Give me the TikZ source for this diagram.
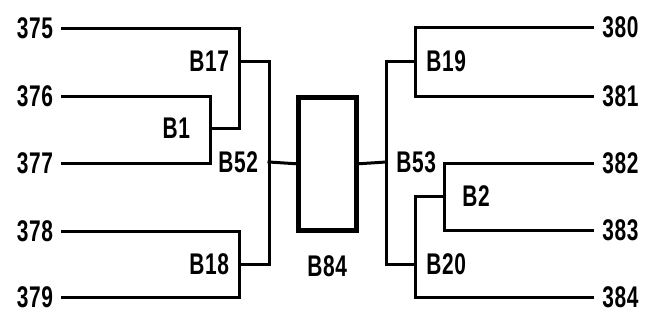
\documentclass[tikz,border=0pt]{standalone}
\usepackage{fontspec}
\newfontfamily\treefont[FakeStretch=0.7,LetterSpace=2]{Liberation Sans}
\newcommand{\tlabel}[1]{\textbf{#1}}
\usetikzlibrary{positioning}

\begin{document}
\begin{tikzpicture}[
  x=0.5bp, y=-0.5bp,
  node distance=5bp,
  lbl/.style={font=\treefont\fontsize{15}{16}\selectfont,inner sep=0pt},
  leafl/.style={lbl,anchor=east},
  leafr/.style={lbl,anchor=west},
  br/.style={line width=1.5bp,line cap=rect},
  boxx/.style={draw,line width=2.5bp,minimum width=29bp,minimum height=66.75bp,inner sep=0pt}
    ]
    \useasboundingbox (0,0) rectangle (648,329);
    % leaves
    \node[leafl] (l375) at (54,28) {\tlabel{375}};
    \node[leafl] (l376) at (54,96) {\tlabel{376}};
    \node[leafl] (l377) at (54,163) {\tlabel{377}};
    \node[leafl] (l378) at (54,231) {\tlabel{378}};
    \node[leafl] (l379) at (54,297) {\tlabel{379}};
    \node[leafr] (r380) at (602,27) {\tlabel{380}};
    \node[leafr] (r381) at (602,96) {\tlabel{381}};
    \node[leafr] (r382) at (602,163) {\tlabel{382}};
    \node[leafr] (r383) at (602,230) {\tlabel{383}};
    \node[leafr] (r384) at (602,297) {\tlabel{384}};
    \coordinate (s375) at (62,28);
    \coordinate (s376) at (62,96);
    \coordinate (s377) at (62,163);
    \coordinate (s378) at (62,231);
    \coordinate (s379) at (62,297);
    \coordinate (e380) at (592,27);
    \coordinate (e381) at (592,96);
    \coordinate (e382) at (592,163);
    \coordinate (e383) at (592,230);
    \coordinate (e384) at (592,297);
    % joins
    \coordinate (b1) at (210,128);
    \coordinate (b17) at (239,61);
    \coordinate (b18) at (239,264);
    \coordinate (b52) at (269,162);
    \coordinate (b53) at (386,162);
    \coordinate (b19) at (415,61);
    \coordinate (b20) at (415,264);
    \coordinate (b2) at (444,196);
    \node[boxx] (b84) at (327.5,163.75) {};
    % labels of joins
    \node[lbl,left=4.5bp of b17] {\tlabel{B17}};
    \node[lbl,left=9.5bp of b1] {\tlabel{B1}};
    \node[lbl,left=5bp of b52] {\tlabel{B52}};
    \node[lbl,left=4.5bp of b18] {\tlabel{B18}};
    \node[lbl,below=11bp of b84] {\tlabel{B84}};
    \node[lbl,right=5bp of b53] {\tlabel{B53}};
    \node[lbl,right=5.5bp of b19] {\tlabel{B19}};
    \node[lbl,right=9bp of b2] {\tlabel{B2}};
    \node[lbl,right=5.5bp of b20] {\tlabel{B20}};
    % left tree
    \draw[br] (s375) -| (b1 -| b17) -- (b1);
    \draw[br] (s376) -| (s377 -| b1) -- (s377);
    \draw[br] (b17) -- (b17 -| b52) -- (b18 -| b52) -- (b18);
    \draw[br] (s378) -| (s379 -| b18) -- (s379);
    \draw[br] (b52) -- (b84.west);
    % right tree
    \draw[br] (b84.east) -- (b53);
    \draw[br] (b19) -- (b19 -| b53) -- (b20 -| b53) -- (b20);
    \draw[br] (e380) -| (e381 -| b19) -- (e381);
    \draw[br] (e382) -| (e383 -| b2) -- (e383);
    \draw[br] (b2) -- (b2 -| b20) |- (e384);
\end{tikzpicture}
\end{document}
